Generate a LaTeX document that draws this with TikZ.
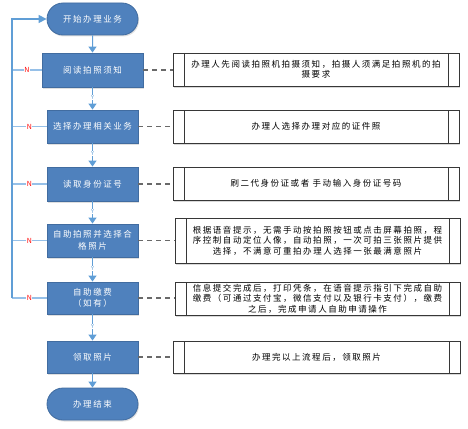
\documentclass[tikz,border=0pt]{standalone}
\usepackage{fontspec}
\setmainfont{Noto Sans CJK SC}[LetterSpace=18]
\usetikzlibrary{shapes.misc,arrows.meta,shadows}
\definecolor{flowfill}{RGB}{79,129,189}
\definecolor{flowdraw}{RGB}{65,108,160}
\definecolor{conn}{RGB}{96,158,214}
\definecolor{connlight}{RGB}{150,192,232}
\definecolor{dashc}{RGB}{105,105,105}
\definecolor{notedraw}{RGB}{55,55,55}
\begin{document}
\begin{tikzpicture}[x=1pt,y=-1pt,
  flow/.style={draw=flowdraw, line width=0.8pt, fill=flowfill, text=white,
    font=\fontsize{8.5}{11.5}\selectfont, align=center, inner sep=0pt,
    minimum width=91pt, minimum height=33pt,
    drop shadow={shadow xshift=1pt, shadow yshift=-1.5pt, opacity=0.25}},
  term/.style={flow, rounded rectangle, minimum height=32pt},
  note/.style={draw=notedraw, line width=0.8pt, fill=white, text=black,
    font=\fontsize{8.5}{10.5}\selectfont, align=center, inner sep=0pt,
    minimum width=286pt, minimum height=33pt,
    drop shadow={shadow xshift=1.2pt, shadow yshift=-1.5pt, opacity=0.3},
    path picture={
      \draw[notedraw, line width=0.8pt]
        ([xshift=11pt]path picture bounding box.north west) --
        ([xshift=11pt]path picture bounding box.south west);
      \draw[notedraw, line width=0.8pt]
        ([xshift=-11pt]path picture bounding box.north east) --
        ([xshift=-11pt]path picture bounding box.south east);}},
  flowarrow/.style={draw=conn, line width=1pt, -{Triangle[width=8pt,length=6pt]}},
  loopline/.style={draw=conn, line width=1.3pt},
  branch/.style={draw=connlight, line width=1.5pt},
  dashline/.style={draw=dashc, line width=1.1pt, dash pattern=on 5pt off 4pt},
  ylab/.style={font=\fontsize{5.5}{6}\selectfont, text=conn, fill=white, inner sep=0.6pt, pos=0.45},
  nlab/.style={font=\fontsize{7}{7}\selectfont, text=red, fill=white, inner sep=0.6pt, pos=0.5}
]
\useasboundingbox (0,0) rectangle (468,428);

% flow nodes
\node[term] (start) at (92.5,19) {开始办理业务};
\node[flow, minimum width=101pt, minimum height=34pt] (b1) at (92.5,70) {阅读拍照须知};
\node[flow] (b2) at (92.5,126.5) {选择办理相关业务};
\node[flow, minimum height=34pt] (b3) at (92.5,184) {读取身份证号};
\node[flow] (b4) at (92.5,240.5) {自助拍照并选择合\\格照片};
\node[flow, minimum height=32pt] (b5) at (92.5,298) {自助缴费\\（如有）};
\node[flow, minimum height=32pt] (b6) at (92.5,357) {领取照片};
\node[term] (end) at (92.5,404) {办理结束};

% note nodes
\node[note] (n1) at (316,69.5) {办理人先阅读拍照机拍摄须知，拍摄人须满足拍照机的拍\\摄要求};
\node[note] (n2) at (316,126.5) {办理人选择办理对应的证件照};
\node[note] (n3) at (316,183.5) {刷二代身份证或者 手动输入身份证号码};
\node[note, minimum width=285pt, minimum height=45pt] (n4) at (317.5,240.5) {根据语音提示，无需手动按拍照按钮或点击屏幕拍照，程\\序控制自动定位人像，自动拍照，一次可拍三张照片提供\\选择，不满意可重拍办理人选择一张最满意照片};
\node[note, minimum width=285pt] (n5) at (317.5,298.5) {信息提交完成后，打印凭条，在语音提示指引下完成自助\\缴费（可通过支付宝，微信支付以及银行卡支付），缴费\\之后，完成申请人自助申请操作};
\node[note, minimum width=287pt, minimum height=32pt] (n6) at (316.5,357) {办理完以上流程后，领取照片};

% main flow arrows
\draw[flowarrow] (start) -- (b1);
\draw[flowarrow] (b1) -- node[ylab]{Y} (b2);
\draw[flowarrow] (b2) -- node[ylab]{Y} (b3);
\draw[flowarrow] (b3) -- node[ylab]{Y} (b4);
\draw[flowarrow] (b4) -- node[ylab]{Y} (b5);
\draw[flowarrow] (b5) -- node[ylab]{Y} (b6);
\draw[flowarrow] (b6) -- (end);

% loop back (N)
\coordinate (lt) at (12,19);
\draw[branch] (b1.west) -- node[nlab]{N} (b1.west -| lt);
\draw[branch] (b2.west) -- node[nlab]{N} (b2.west -| lt);
\draw[branch] (b3.west) -- node[nlab]{N} (b3.west -| lt);
\draw[branch] (b4.west) -- node[nlab]{N} (b4.west -| lt);
\draw[branch] (b5.west) -- node[nlab]{N} (b5.west -| lt);
\draw[loopline, -{Triangle[width=8pt,length=8pt]}] (b5.west -| lt) -- (lt) -- (start.west);

% dashed links to notes
\draw[dashline] (b1.east) -- (b1.east -| n1.west);
\draw[dashline] (b2.east) -- (b2.east -| n2.west);
\draw[dashline] (b3.east) -- (b3.east -| n3.west);
\draw[dashline] (b4.east) -- (b4.east -| n4.west);
\draw[dashline] (b5.east) -- (b5.east -| n5.west);
\draw[dashline] (b6.east) -- (b6.east -| n6.west);
\end{tikzpicture}
\end{document}
